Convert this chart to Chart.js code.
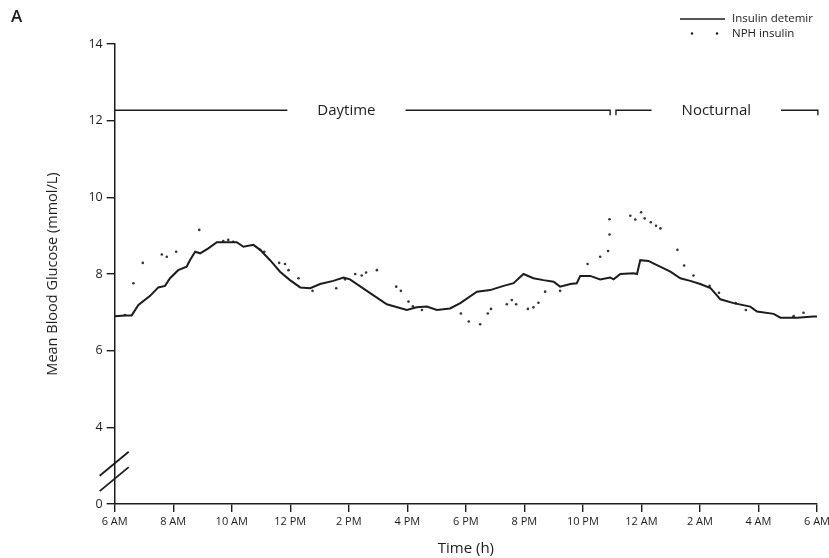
<!DOCTYPE html>
<html><head><meta charset="utf-8">
<script src="https://cdn.jsdelivr.net/npm/chart.js@4/dist/chart.umd.min.js"></script>
<style>html,body{margin:0;padding:0;background:#fff}</style>
</head><body>
<canvas id="c" width="829" height="558"></canvas>
<script>
// ---- data (hours after 6 AM, mmol/L) ----
const detemirHours = [0,0.35,0.58,0.81,1.21,1.49,1.72,1.89,2.17,2.46,2.57,2.75,2.92,3.20,3.49,4.17,4.40,4.74,4.97,5.31,5.65,5.99,6.34,6.68,7.02,7.47,7.82,8.04,8.73,9.30,9.98,10.32,10.67,11.01,11.46,11.81,12.38,12.83,13.29,13.63,13.97,14.31,14.65,15.00,15.22,15.57,15.79,15.91,16.25,16.59,16.93,17.05,17.28,17.73,17.85,17.96,18.24,18.53,18.99,19.33,19.67,20.01,20.36,20.70,21.15,21.72,21.95,22.52,22.75,23.32,23.88,24];
const detemirGlucose = [6.90,6.92,6.92,7.19,7.43,7.65,7.69,7.89,8.10,8.19,8.36,8.58,8.54,8.67,8.83,8.83,8.71,8.76,8.63,8.36,8.06,7.84,7.65,7.63,7.74,7.82,7.91,7.86,7.50,7.21,7.06,7.13,7.15,7.06,7.10,7.24,7.54,7.58,7.69,7.76,8.00,7.89,7.84,7.80,7.67,7.74,7.76,7.95,7.95,7.86,7.91,7.86,8.00,8.02,8.00,8.36,8.34,8.23,8.06,7.89,7.82,7.74,7.63,7.34,7.24,7.15,7.02,6.96,6.86,6.86,6.89,6.89];
const nphHours = [0.35,0.64,0.96,1.61,1.78,2.10,2.89,3.71,3.88,4.05,4.97,5.11,5.62,5.82,5.94,6.28,6.76,7.57,7.87,8.22,8.44,8.59,8.96,9.62,9.78,10.04,10.19,10.50,11.83,12.10,12.49,12.75,12.86,13.40,13.57,13.72,14.12,14.31,14.48,14.71,15.22,16.16,16.59,16.86,16.91,16.91,17.62,17.79,17.99,18.11,18.32,18.50,18.65,19.23,19.46,19.78,20.33,20.65,21.22,21.57,23.20,23.54];
const nphGlucose = [6.93,7.76,8.29,8.51,8.45,8.58,9.15,8.86,8.89,8.84,8.63,8.58,8.29,8.26,8.10,7.89,7.56,7.63,7.86,8.00,7.96,8.04,8.10,7.67,7.56,7.28,7.16,7.06,6.97,6.76,6.69,6.97,7.09,7.21,7.32,7.21,7.09,7.13,7.25,7.54,7.56,8.26,8.45,8.60,9.03,9.43,9.52,9.42,9.61,9.45,9.35,9.26,9.19,8.63,8.22,7.96,7.69,7.51,7.24,7.06,6.90,6.99];
const xTickValues = [0,2,4,6,8,10,12,14,16,18,20,22,24];
const xTickLabels = ['6 AM','8 AM','10 AM','12 PM','2 PM','4 PM','6 PM','8 PM','10 PM','12 AM','2 AM','4 AM','6 AM'];
const yTickValues = [2,4,6,8,10,12,14];
const yTickLabels = ['0','4','6','8','10','12','14'];
const periods = [
  {label:'Daytime', start:0, end:16.93, labelAt:7.92, startTick:false, endTick:true},
  {label:'Nocturnal', start:17.13, end:24.03, labelAt:20.56, startTick:true, endTick:true}
];
const periodLevel = 12.27;
const seriesNames = ['Insulin detemir','NPH insulin'];

const INK = '#1e1b1c';
const FONT = 'Open Sans';

const extras = {
  id:'extras',
  afterDraw(chart){
    const ctx = chart.ctx, xs = chart.scales.x, ys = chart.scales.y;
    ctx.save();
    ctx.fillStyle = INK; ctx.strokeStyle = INK;
    // panel letter
    ctx.font = '600 17px "'+FONT+'"';
    ctx.textAlign='left'; ctx.textBaseline='middle';
    ctx.fillText('A', 11, 17);
    // legend
    ctx.font = '11.5px "'+FONT+'"';
    ctx.lineWidth = 1.4;
    ctx.beginPath(); ctx.moveTo(680,19); ctx.lineTo(725,19); ctx.stroke();
    ctx.fillText(seriesNames[0], 732, 19);
    ctx.beginPath(); ctx.arc(692,33.5,1.2,0,Math.PI*2); ctx.fill();
    ctx.beginPath(); ctx.arc(717,33.5,1.2,0,Math.PI*2); ctx.fill();
    ctx.fillText(seriesNames[1], 732, 34);
    // period brackets
    const py = ys.getPixelForValue(periodLevel);
    ctx.font = '15px "'+FONT+'"';
    ctx.textAlign='center';
    ctx.lineWidth = 1.4;
    periods.forEach(p=>{
      const x0 = xs.getPixelForValue(p.start), x1 = xs.getPixelForValue(p.end);
      const xc = xs.getPixelForValue(p.labelAt);
      const w = ctx.measureText(p.label).width;
      const g0 = xc - w/2 - 30, g1 = xc + w/2 + 30;
      ctx.beginPath();
      if (p.startTick){ ctx.moveTo(x0, py+5); ctx.lineTo(x0, py); } else ctx.moveTo(x0, py);
      ctx.lineTo(g0, py);
      ctx.moveTo(g1, py); ctx.lineTo(x1, py);
      if (p.endTick) ctx.lineTo(x1, py+5);
      ctx.stroke();
      ctx.fillText(p.label, xc, py);
    });
    // axis break marks
    const ax = xs.left;
    ctx.lineWidth = 1.8;
    [3.05, 2.65].forEach(v=>{
      const yy = ys.getPixelForValue(v);
      ctx.beginPath(); ctx.moveTo(ax-15, yy+12); ctx.lineTo(ax+14, yy-12); ctx.stroke();
    });
    ctx.restore();
  }
};

new Chart(document.getElementById('c'), {
  type:'line',
  data:{
    datasets:[
      {label:seriesNames[0], data:detemirHours.map((h,i)=>({x:h,y:detemirGlucose[i]})),
       borderColor:INK, borderWidth:2, pointRadius:0, tension:0, fill:false},
      {label:seriesNames[1], data:nphHours.map((h,i)=>({x:h,y:nphGlucose[i]})),
       showLine:false, pointRadius:1.3, pointBackgroundColor:'#333', pointBorderWidth:0, borderColor:'#333'}
    ]
  },
  options:{
    responsive:false, animation:false, devicePixelRatio:1,
    layout:{padding:{left:40, right:12, top:44, bottom:0}},
    plugins:{legend:{display:false}, tooltip:{enabled:false}},
    scales:{
      x:{type:'linear', min:0, max:24,
        afterBuildTicks:s=>{ s.ticks = xTickValues.map(v=>({value:v})); },
        ticks:{autoSkip:false, maxRotation:0, padding:3, color:INK, font:{family:FONT,size:11},
          callback:(v)=>xTickLabels[xTickValues.indexOf(v)]},
        grid:{display:true, drawOnChartArea:false, drawTicks:true, tickLength:8, color:INK, lineWidth:1.4},
        border:{display:true, color:INK, width:1.5},
        title:{display:true, text:'Time (h)', color:INK, font:{family:FONT,size:15}, padding:{top:0,bottom:0}},
        afterFit:s=>{ s.height = 54; s.paddingLeft=0; s.paddingRight=0; }
      },
      y:{type:'linear', min:2, max:14,
        afterBuildTicks:s=>{ s.ticks = yTickValues.map(v=>({value:v})); },
        ticks:{padding:4, color:INK, font:{family:FONT,size:12.5},
          callback:(v)=>yTickLabels[yTickValues.indexOf(v)]},
        grid:{display:true, drawOnChartArea:false, drawTicks:true, tickLength:8, color:INK, lineWidth:1.4},
        border:{display:true, color:INK, width:1.5},
        title:{display:true, text:'Mean Blood Glucose (mmol/L)', color:INK, font:{family:FONT,size:14.5}, padding:{top:4,bottom:0}},
        afterFit:s=>{ s.width = 74.7; s.paddingTop=0; s.paddingBottom=0; }
      }
    }
  },
  plugins:[extras]
});
</script>
</body></html>
